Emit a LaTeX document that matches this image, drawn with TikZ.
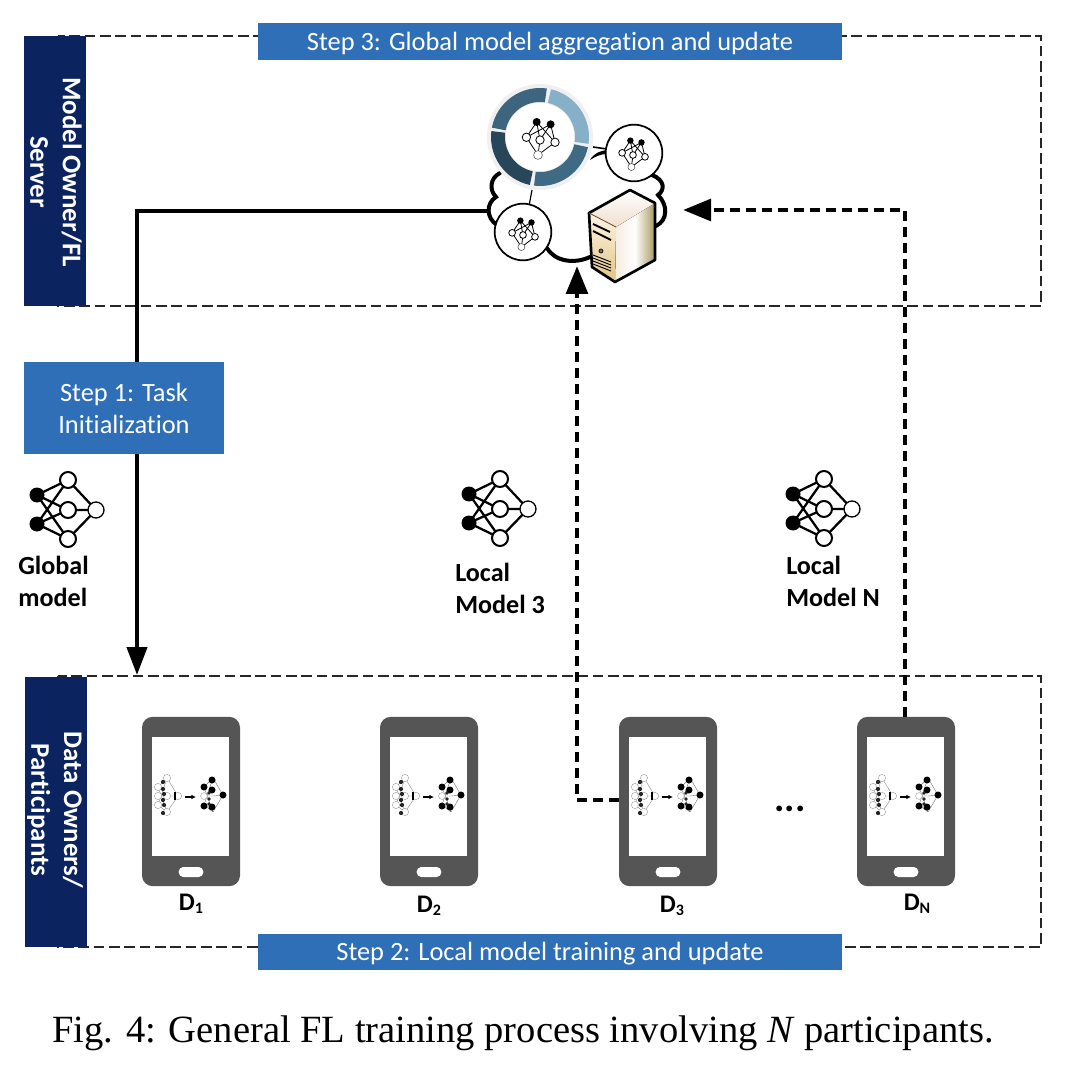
\documentclass[tikz,border=0pt]{standalone}
\usepackage{fontspec}
\setmainfont[Ligatures={NoCommon}]{Carlito}
\newfontfamily\capfont{Liberation Serif}
\usetikzlibrary{arrows.meta,positioning}
\definecolor{navy}{HTML}{0B2460}
\definecolor{stepblue}{HTML}{2E6FB7}
\definecolor{phonegray}{HTML}{555555}
\definecolor{ringA}{HTML}{86B0C8}
\definecolor{ringB}{HTML}{3F6A84}
\definecolor{ringC}{HTML}{28465A}
\definecolor{ringD}{HTML}{3D657D}
\tikzset{
  x=0.75pt,y=-0.75pt,
  frame/.style={draw=black!85,line width=0.8pt,dash pattern=on 8pt off 3.5pt},
  sidebar/.style={fill=navy,text=white,font=\bfseries\fontsize{20.2}{24.5}\selectfont,align=center,inner sep=0pt},
  stepbar/.style={fill=stepblue,text=white,font=\fontsize{19.8}{24}\selectfont,align=center,inner sep=0pt},
  steptext/.style={text=white,font=\fontsize{19.8}{24}\selectfont,align=center,inner sep=0pt},
  lbl/.style={font=\bfseries\fontsize{19.6}{24}\selectfont,align=left,inner sep=0pt},
  dlbl/.style={font=\bfseries\fontsize{19}{20}\selectfont,inner sep=0pt},
  solidflow/.style={line width=3.2pt,-{Triangle[length=21pt,width=15pt]}},
  dashflow/.style={line width=3.6pt,dash pattern=on 7pt off 5pt,-{Triangle[length=21pt,width=16pt]}},
  phonebody/.style={fill=phonegray,rounded corners=8pt,minimum width=73.5pt,minimum height=127pt,inner sep=0pt},
  bignet/.pic={
    \draw[line width=1.7pt]
      (-31,-15)--(0,-30) (-31,-15)--(0,0) (-31,-15)--(0,29)
      (-31,14)--(0,-30) (-31,14)--(0,0) (-31,14)--(0,29)
      (0,-30)--(28,0) (0,0)--(28,0) (0,29)--(28,0);
    \foreach \p in {(-31,-15),(-31,14)} \fill \p circle[radius=7.5];
    \foreach \p in {(0,-30),(0,0),(0,29)} \draw[line width=1.5pt,fill=white] \p circle[radius=8];
    \draw[line width=1pt,fill=white] (28,0) circle[radius=8];
  },
  mininet/.pic={
    \draw[line width=.6pt]
      (-3.3,-18)--(-13.6,-2.7) (-3.3,-18)--(0,0) (-3.3,-18)--(15,2.3)
      (10.6,-15.7)--(-13.6,-2.7) (10.6,-15.7)--(0,0) (10.6,-15.7)--(15,2.3)
      (-13.6,-2.7)--(-2,15) (0,0)--(-2,15) (15,2.3)--(-2,15);
    \foreach \p in {(-3.3,-18),(10.6,-15.7)} \fill \p circle[radius=4];
    \foreach \p in {(-13.6,-2.7),(0,0),(15,2.3)} \draw[line width=.6pt,fill=white] \p circle[radius=4.2];
    \draw[line width=.4pt,draw=black!70,fill=white] (-2,15) circle[radius=4.4];
  },
  phonenets/.pic={
    \draw[black!45,line width=.3pt]
      (-33,-9)--(-24,-18) (-33,0)--(-24,0) (-33,9)--(-24,16) (-33,-9)--(-24,16) (-33,9)--(-24,-18)
      (-24,-18)--(-13,0) (-24,0)--(-13,0) (-24,16)--(-13,0);
    \foreach \p in {(-33,-9),(-33,0),(-33,9),(-24,-18),(-24,0),(-24,16),(-13,0)}
      \draw[black!40,line width=.3pt,fill=white] \p circle[radius=3.6];
    \foreach \p in {(-28,-14),(-28,-7),(-27,-2),(-28,4),(-27,9),(-28,17)} \fill[black!85] \p circle[radius=2.1];
    \fill (-17,-4) rectangle (-15,4);
    \draw[line width=1pt,-{Latex[length=3.5pt,width=3.5pt]}] (-6,1)--(5,1);
    \draw[black!55,line width=.3pt]
      (13,-9)--(22,-18) (13,0)--(22,0) (13,9)--(22,16) (13,-9)--(22,16) (13,9)--(22,-18)
      (22,-18)--(32,-1) (22,0)--(32,-1) (22,16)--(32,-1);
    \draw[black!40,line width=.3pt,fill=white] (13,0) circle[radius=3.4];
    \foreach \p in {(13,-9),(13,10),(21,-16),(21,-6),(21,11),(32,-1)} \fill \p circle[radius=3.5];
    \foreach \p in {(18,-3),(18,3),(18,8)} \fill[black!85] \p circle[radius=1.8];
  },
}
\newcommand{\phonedev}[2]{%
  \node[phonebody] (#1) at (#2,801.5) {};
  \node[fill=white,minimum width=58pt,minimum height=89.5pt,inner sep=0pt] (#1screen) at (#2-0.5,796.5) {};
  \node[fill=white,rounded corners=3.5pt,minimum width=18.5pt,minimum height=7.5pt,inner sep=0pt] (#1btn) at (#2,872) {};
  \pic at (#2,796) {phonenets};
}
\newcommand{\sub}[1]{\raisebox{-2.5pt}{\fontsize{12}{12}\selectfont #1}}
\begin{document}
\begin{tikzpicture}
\useasboundingbox (0,0) rectangle (1068,1066);
\fill[white] (0,0) rectangle (1068,1066);

% dashed frames
\draw[frame] (58,36) rectangle (1041,306);
\draw[frame] (58,676) rectangle (1041,947);

% side bars and step bars
\node[sidebar,minimum width=62*.75pt,minimum height=270*.75pt] (ownerbar) at (55,171) {};
\node[sidebar,rotate=-90] (ownertext) at (56,172) {Model Owner/FL\\Server};
\node[sidebar,minimum width=62*.75pt,minimum height=270*.75pt] (databar) at (56,812) {};
\node[sidebar,rotate=-90] (datatext) at (55,810) {Data Owners/\\Participants};
\node[stepbar,minimum width=584*.75pt,minimum height=37*.75pt] (step3) at (550,41.5) {};
\node[steptext] (step3text) at (550,43.5) {Step 3: Global model aggregation and update};
\node[stepbar,minimum width=584*.75pt,minimum height=36*.75pt] (step2) at (550,952) {};
\node[steptext] (step2text) at (550,954) {Step 2: Local model training and update};

% phones
\phonedev{d1}{191}
\phonedev{d2}{429}
\phonedev{d3}{668}
\phonedev{dn}{906}
\node[dlbl] (d1l) at (191,904) {D\sub{1}};
\node[dlbl] (d2l) at (429,906) {D\sub{2}};
\node[dlbl] (d3l) at (672,906) {D\sub{3}};
\node[dlbl] (dnl) at (917,904) {D\sub{N}};
\node[font=\bfseries\fontsize{29}{29}\selectfont,inner sep=0pt] (dots) at (790,809) {...};

% cloud outline
\draw[line width=3pt,line cap=round] (500,173) .. controls (490,178) and (489,190) .. (496,197)
  .. controls (486,203) and (486,218) .. (497,225);
\draw[line width=3pt,line cap=round] (547,248) .. controls (555,262) and (575,264) .. (590,257);
\draw[line width=3pt,line cap=round] (652,175) .. controls (665,180) and (665,190) .. (658,195)
  .. controls (668,205) and (668,220) .. (656,226);
\draw[line width=1.2pt] (593,147) -- (607,149);
\fill (590,160) .. controls (594,153) and (600,151) .. (607,150) -- (607,154) .. controls (600,154) and (595,157) .. (590,160) -- cycle;
\draw[line width=.9pt] (532,190) -- (529,206);

% flows
\coordinate (srcleft) at (488,211);
\coordinate (elbow1) at (137,211);
\coordinate (d1top) at (137,675);
\draw[solidflow] (srcleft) -- (elbow1) -- (d1top);
\coordinate (d3port) at (d3.west |- 0,800);
\coordinate (elbow3) at (577,800);
\coordinate (srvbot) at (577,266);
\draw[dashflow] (d3port) -- (elbow3) -- (srvbot);
\coordinate (elbown) at (905,210);
\coordinate (srvright) at (683,210);
\draw[dashflow] (dn.north -| 905,0) -- (elbown) -- (srvright);

% step 1 box (over the solid line)
\node[stepbar,minimum width=200*.75pt,minimum height=92*.75pt] (step1) at (124,408) {Step 1: Task\\Initialization};

% local and global models
\pic at (68,510) {bignet};
\pic at (500,509) {bignet};
\pic at (824,509) {bignet};
\node[lbl,anchor=west] (globall) at (18,581.5) {Global\\model};
\node[lbl,anchor=west] (local3l) at (455,588) {Local\\Model 3};
\node[lbl,anchor=west] (localnl) at (786,581.5) {Local\\Model N};

% ring
\begin{scope}[shift={(540,137)},yscale=-1]
  \fill[black!6] (0,0) circle[radius=53];
  \fill[white] (0,0) circle[radius=34];
  \fill[ringA] (77:49) arc[start angle=77,end angle=-8,radius=49] -- (-8:35) arc[start angle=-8,end angle=77,radius=35] -- cycle;
  \fill[ringB] (-12:49) arc[start angle=-12,end angle=-97,radius=49] -- (-97:35) arc[start angle=-97,end angle=-12,radius=35] -- cycle;
  \fill[ringC] (-102:49) arc[start angle=-102,end angle=-187,radius=49] -- (-187:35) arc[start angle=-187,end angle=-102,radius=35] -- cycle;
  \fill[ringD] (169:49) arc[start angle=169,end angle=82,radius=49] -- (82:35) arc[start angle=82,end angle=169,radius=35] -- cycle;
\end{scope}
\pic at (540,140) {mininet};
\node[circle,draw,line width=1.3pt,fill=white,minimum size=42.5pt,inner sep=0pt] (hubr) at (634,153) {};
\node[circle,draw,line width=1.3pt,fill=white,minimum size=42.5pt,inner sep=0pt] (hubl) at (523,232) {};
\pic[scale=.8] at (633,155) {mininet};
\pic[scale=.8] at (523,235) {mininet};

% server
\begin{scope}[line join=round]
  \fill[left color=white!75!brown!60,right color=brown!60!yellow!60!black!70,middle color=white] (616,227) -- (655,203) -- (655,260) -- (615,282) -- cycle;
  \fill[top color=white,bottom color=white!75!brown] (589,213) -- (630,190) -- (655,203) -- (616,227) -- cycle;
  \fill[top color=white!90!orange,bottom color=yellow!25!brown!60] (589,213) -- (616,227) -- (615,282) -- (592,267) -- cycle;
  \draw[line width=2pt] (630,190) -- (655,203) -- (655,260) -- (615,282) -- (592,267) -- (589,213) -- cycle;
  \draw[line width=.6pt,draw=brown!60!black] (589,213) -- (616,227);
  \draw[line width=1.4pt] (593,224) -- (610,232);
  \draw[line width=1.4pt] (593,231) -- (611,240);
  \foreach \yy in {259,262,265,268} \draw[line width=.7pt] (593,\yy-4) -- (611,\yy+3);
  \draw[line width=.5pt,fill=black!55] (601,251) circle[radius=2];
\end{scope}

% caption
\node[anchor=base west,inner sep=0pt,font=\capfont\fontsize{28.9}{30}\selectfont] (caption) at (52,1042) {Fig. 4: General FL training process involving \textit{N} participants.};
\end{tikzpicture}
\end{document}
